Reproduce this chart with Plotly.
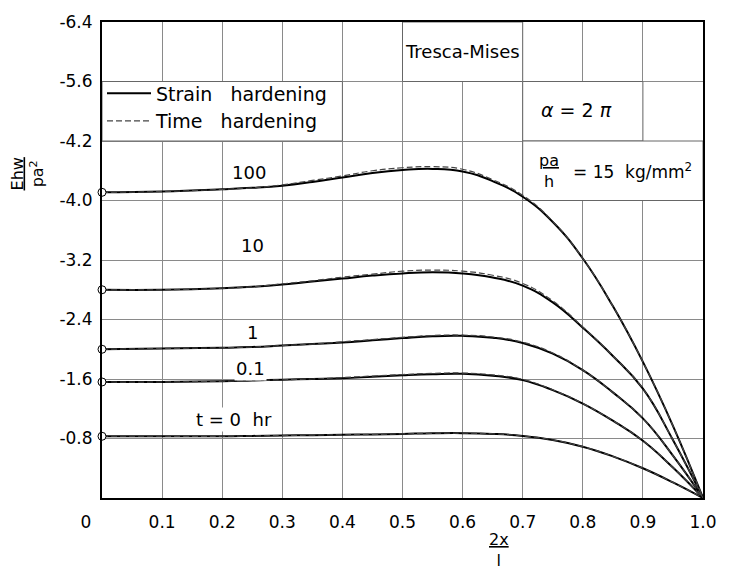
import plotly.graph_objects as go

# ---- data ----
x_pos = [0.0, 0.1, 0.2, 0.25, 0.3, 0.35, 0.4, 0.45, 0.5, 0.55, 0.6, 0.65, 0.7, 0.75, 0.8, 0.85, 0.9, 0.95, 1.0]

times = ["0", "0.1", "1", "10", "100"]

strain_t0   = [-0.83, -0.83, -0.83, -0.835, -0.84, -0.845, -0.85, -0.855, -0.862, -0.87, -0.872, -0.862, -0.835, -0.78, -0.69, -0.56, -0.40, -0.21, 0.0]
strain_t01  = [-1.56, -1.56, -1.57, -1.58, -1.59, -1.60, -1.61, -1.63, -1.65, -1.665, -1.67, -1.645, -1.585, -1.45, -1.27, -1.04, -0.77, -0.41, 0.0]
strain_t1   = [-2.00, -2.01, -2.02, -2.03, -2.05, -2.07, -2.09, -2.12, -2.15, -2.175, -2.18, -2.155, -2.085, -1.94, -1.72, -1.42, -1.07, -0.57, 0.0]
strain_t10  = [-2.80, -2.80, -2.82, -2.84, -2.87, -2.91, -2.95, -2.99, -3.02, -3.035, -3.02, -2.965, -2.855, -2.63, -2.29, -1.91, -1.47, -0.78, 0.0]
strain_t100 = [-4.11, -4.12, -4.15, -4.17, -4.20, -4.25, -4.31, -4.37, -4.41, -4.425, -4.39, -4.26, -4.05, -3.71, -3.22, -2.58, -1.83, -0.97, 0.0]

time_t0   = [-0.83, -0.83, -0.83, -0.835, -0.84, -0.845, -0.85, -0.855, -0.862, -0.87, -0.872, -0.862, -0.835, -0.78, -0.69, -0.56, -0.40, -0.21, 0.0]
time_t01  = [-1.56, -1.56, -1.57, -1.58, -1.59, -1.60, -1.62, -1.64, -1.66, -1.675, -1.68, -1.655, -1.595, -1.455, -1.27, -1.04, -0.77, -0.41, 0.0]
time_t1   = [-2.00, -2.01, -2.02, -2.03, -2.05, -2.07, -2.10, -2.13, -2.16, -2.185, -2.19, -2.165, -2.095, -1.95, -1.72, -1.42, -1.07, -0.57, 0.0]
time_t10  = [-2.80, -2.80, -2.82, -2.84, -2.88, -2.92, -2.97, -3.01, -3.05, -3.065, -3.05, -2.995, -2.885, -2.65, -2.30, -1.91, -1.47, -0.78, 0.0]
time_t100 = [-4.11, -4.12, -4.15, -4.17, -4.21, -4.27, -4.33, -4.40, -4.44, -4.455, -4.42, -4.28, -4.07, -3.72, -3.22, -2.58, -1.83, -0.97, 0.0]

strain_series = [strain_t0, strain_t01, strain_t1, strain_t10, strain_t100]
time_series = [time_t0, time_t01, time_t1, time_t10, time_t100]

curve_labels = ["t = 0  hr", "0.1", "1", "10", "100"]
label_x = [0.22, 0.247, 0.25, 0.25, 0.245]
label_y = [-1.06, -1.74, -2.22, -3.40, -4.37]

x_ticks = [0, 0.1, 0.2, 0.3, 0.4, 0.5, 0.6, 0.7, 0.8, 0.9, 1.0]
x_ticktext = ["0\u00a0\u00a0\u00a0\u00a0\u00a0\u00a0", "0.1", "0.2", "0.3", "0.4", "0.5", "0.6", "0.7", "0.8", "0.9", "1.0"]
y_ticks = [-6.4, -5.6, -4.8, -4.0, -3.2, -2.4, -1.6, -0.8]
y_ticktext = ["-6.4", "-5.6", "-4.2", "-4.0", "-3.2", "-2.4", "-1.6", "-0.8"]

FONT = "DejaVu Sans"
GRID = "#8a8a8a"

fig = go.Figure()

for i, ys in enumerate(strain_series):
    fig.add_trace(go.Scatter(
        x=x_pos, y=ys, mode="lines", line=dict(color="black", width=2, shape="spline", smoothing=1.3),
        name="Strain   hardening", legendgroup="strain", showlegend=(i == 0), hoverinfo="skip"))

for i, ys in enumerate(time_series):
    fig.add_trace(go.Scatter(
        x=x_pos, y=ys, mode="lines", line=dict(color="#444", width=1.2, dash="6px,3px", shape="spline", smoothing=1.3),
        name="Time   hardening", legendgroup="time", showlegend=(i == 0), hoverinfo="skip"))

# open circles at start of each curve
fig.add_trace(go.Scatter(
    x=[x_pos[0]] * len(strain_series), y=[s[0] for s in strain_series], mode="markers",
    marker=dict(symbol="circle", size=8, color="white", line=dict(color="black", width=1)),
    showlegend=False, hoverinfo="skip", cliponaxis=False))

# boxes (white cells covering gridlines)
boxes = [(0.0, 0.4, -5.6, -4.8), (0.5, 0.7, -6.4, -5.6), (0.7, 0.9, -5.6, -4.8), (0.7, 1.0, -4.8, -4.0)]
shapes = []
for x0, x1, y0, y1 in boxes:
    shapes.append(dict(type="rect", xref="x", yref="y", x0=x0, x1=x1, y0=y0, y1=y1,
                       fillcolor="white", line=dict(color="#666", width=1), layer="between"))

annotations = []
for txt, lx, ly in zip(curve_labels, label_x, label_y):
    annotations.append(dict(x=lx, y=ly, xref="x", yref="y", text=txt, showarrow=False,
                            font=dict(family=FONT, size=18, color="black"), bgcolor="white"))

annotations += [
    dict(x=0.6, y=-6.0, xref="x", yref="y", text="Tresca-Mises", showarrow=False,
         font=dict(family=FONT, size=18, color="black")),
    dict(x=0.79, y=-5.22, xref="x", yref="y", text="<i>α</i> = 2 <i>π</i>", showarrow=False,
         font=dict(family=FONT, size=19, color="black")),
    dict(x=0.743, y=-4.40, xref="x", yref="y", text="<u>pa</u><br>h", showarrow=False,
         font=dict(family=FONT, size=16, color="black")),
    dict(x=0.882, y=-4.40, xref="x", yref="y", text="= 15  kg/mm<sup>2</sup>", showarrow=False,
         font=dict(family=FONT, size=17, color="black")),
    dict(x=0.66, y=0.0, xref="x", yref="y", yshift=-52, text="<u>2x</u><br>l", showarrow=False,
         font=dict(family=FONT, size=16, color="black")),
    dict(x=0, y=-4.35, xref="paper", yref="y", xanchor="center", yanchor="middle", xshift=-74,
         text="<u>Ehw</u><br>pa<sup>2</sup>",
         textangle=-90, showarrow=False, font=dict(family=FONT, size=16, color="black")),
]

fig.update_layout(
    width=729, height=577,
    margin=dict(l=102, r=15, t=15, b=79),
    paper_bgcolor="white", plot_bgcolor="white",
    font=dict(family=FONT, size=16, color="black"),
    shapes=shapes, annotations=annotations,
    showlegend=True,
    legend=dict(x=0.0, y=0.89, xanchor="left", yanchor="top", bgcolor="rgba(0,0,0,0)",
                font=dict(family=FONT, size=19, color="black"), itemwidth=44, tracegroupgap=0),
)

fig.update_xaxes(range=[0, 1.0], tickvals=x_ticks, ticktext=x_ticktext,
                 showgrid=True, gridcolor=GRID, gridwidth=1,
                 showline=True, linecolor="black", linewidth=2, mirror=True,
                 ticks="outside", ticklen=8, tickcolor="rgba(0,0,0,0)", zeroline=False,
                 tickfont=dict(family=FONT, size=17))
fig.update_yaxes(range=[0, -6.4], tickvals=y_ticks, ticktext=y_ticktext,
                 showgrid=True, gridcolor=GRID, gridwidth=1,
                 showline=True, linecolor="black", linewidth=2, mirror=True,
                 ticks="outside", ticklen=4, tickcolor="rgba(0,0,0,0)", zeroline=False,
                 tickfont=dict(family=FONT, size=17))

fig.write_html("out.html")
